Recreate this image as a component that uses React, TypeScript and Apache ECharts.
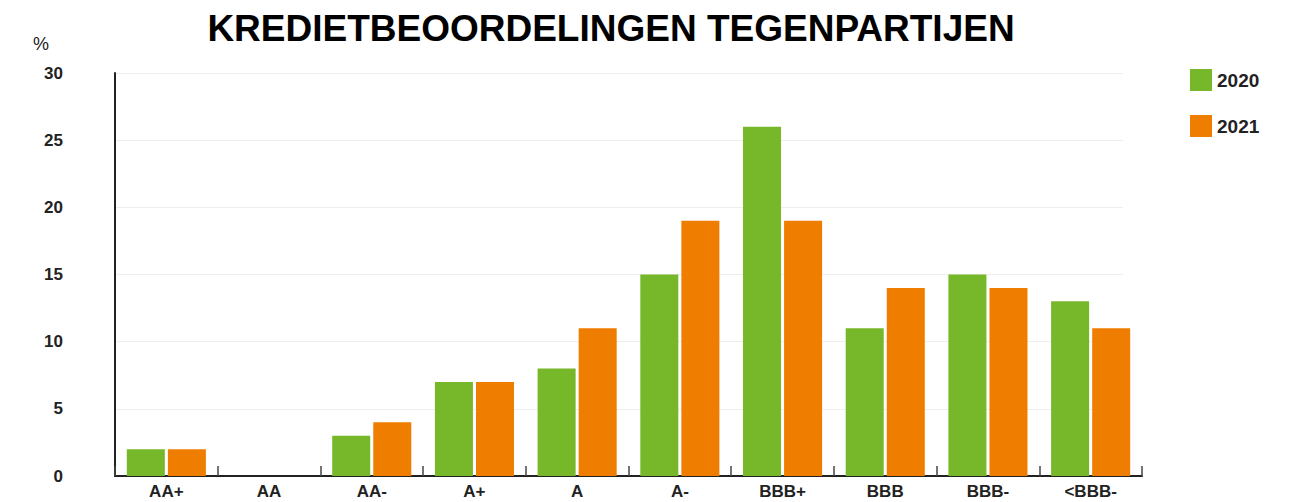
import React, { useEffect, useRef } from "react";
import * as echarts from "echarts";

const categories = ["AA+", "AA", "AA-", "A+", "A", "A-", "BBB+", "BBB", "BBB-", "<BBB-"];
const values2020 = [2, 0, 3, 7, 8, 15, 26, 11, 15, 13];
const values2021 = [2, 0, 4, 7, 11, 19, 19, 14, 14, 11];
const seriesNames = ["2020", "2021"];
const colors = ["#76b82a", "#ef7d00"];

export default function App() {
  const ref = useRef<HTMLDivElement>(null);
  useEffect(() => {
    const chart = echarts.init(ref.current!, null, { renderer: "svg" });
    chart.setOption({
      animation: false,
      backgroundColor: "#ffffff",
      textStyle: { fontFamily: "Liberation Sans, Arial, sans-serif" },
      title: {
        text: "KREDIETBEOORDELINGEN TEGENPARTIJEN",
        left: 611,
        top: 10,
        padding: 0,
        textAlign: "center",
        textStyle: { fontSize: 37, fontWeight: "bold", color: "#000" },
      },
      graphic: [
        {
          type: "text",
          left: 33,
          top: 35,
          style: { text: "%", fontSize: 18, fill: "#222", fontFamily: "Liberation Sans, Arial, sans-serif" },
        },
      ],
      legend: {
        orient: "vertical",
        left: 1190,
        top: 69,
        padding: 0,
        itemWidth: 22,
        itemHeight: 22,
        itemGap: 24,
        icon: "rect",
        textStyle: { fontSize: 19, fontWeight: "bold", color: "#222" },
        data: seriesNames,
      },
      grid: [
        { left: 115, right: 170, top: 73, bottom: 26 },
        { left: 115, right: 151, top: 73, bottom: 26 },
      ],
      xAxis: [
        { type: "value", gridIndex: 0, show: false, min: 0, max: 1 },
        {
          type: "category",
          gridIndex: 1,
          data: categories,
          axisLine: { lineStyle: { color: "#222", width: 2 } },
          axisTick: { show: true, inside: true, length: 10, lineStyle: { color: "#444", width: 1.5 } },
          axisLabel: { fontSize: 17, fontWeight: "bold", color: "#222", margin: 7 },
        },
      ],
      yAxis: [
        {
          type: "value",
          gridIndex: 0,
          min: 0,
          max: 30,
          interval: 5,
          axisLine: { show: false },
          axisTick: { show: false },
          axisLabel: { show: false },
          splitLine: { lineStyle: { color: "#eeeeee", width: 1 } },
        },
        {
          type: "value",
          gridIndex: 1,
          min: 0,
          max: 30,
          interval: 5,
          axisLine: { show: true, lineStyle: { color: "#222", width: 2 } },
          axisTick: { show: false },
          axisLabel: { fontSize: 17, fontWeight: "bold", color: "#222", margin: 52, align: "right" },
          splitLine: { show: false },
        },
      ],
      series: [
        {
          name: seriesNames[0],
          type: "bar",
          xAxisIndex: 1,
          yAxisIndex: 1,
          data: values2020,
          itemStyle: { color: colors[0] },
          barGap: "8%",
          barCategoryGap: "23%",
        },
        {
          name: seriesNames[1],
          type: "bar",
          xAxisIndex: 1,
          yAxisIndex: 1,
          data: values2021,
          itemStyle: { color: colors[1] },
          barGap: "8%",
          barCategoryGap: "23%",
        },
      ],
    });
    return () => chart.dispose();
  }, []);
  return (
    <div
      ref={ref}
      style={{ position: "absolute", left: 0, top: 0, width: 1293, height: 502 }}
    />
  );
}
